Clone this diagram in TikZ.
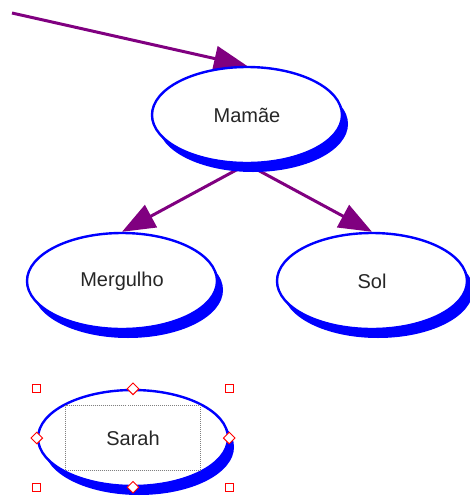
\documentclass[tikz,border=0pt]{standalone}
\usepackage{fontspec}
\setmainfont{Liberation Sans}
\usetikzlibrary{arrows.meta, shapes.geometric, shadows, backgrounds}
\definecolor{azul}{RGB}{0,0,255}
\definecolor{roxo}{RGB}{128,0,128}
\tikzset{
  conceito/.style={
    ellipse, draw=azul, line width=2.4pt, fill=white,
    minimum width=190pt, minimum height=96pt,
    font=\fontsize{20}{24}\selectfont, text=black!85,
    drop shadow={shadow xshift=6pt, shadow yshift=-9pt, fill=azul, opacity=1}
  },
  seta/.style={
    -{Triangle[length=33pt,width=25pt]}, line width=3pt, color=roxo
  },
  alca/.style={
    rectangle, draw=red, fill=white, line width=0.9pt, minimum size=8pt, inner sep=0pt
  },
  losango/.style={
    diamond, draw=red, fill=white, line width=0.9pt, minimum size=12pt, inner sep=0pt
  }
}

\begin{document}
\begin{tikzpicture}[x=1pt, y=-1pt]
  \useasboundingbox (0,0) rectangle (470,496);

  % Conceitos
  \node[conceito] (mamae) at (247,115) {Mamãe};
  \node[conceito] (mergulho) at (122,281) {Mergulho};
  \node[conceito] (sol) at (372,281) {Sol};
  \node[conceito] (sarah) at (133,438) {Sarah};
  \coordinate (origem) at (12,13);

  % Ligações
  \begin{scope}[on background layer]
    \draw[seta] (origem) -- (mamae.north);
    \draw[seta] (mamae.south) -- (mergulho.north);
    \draw[seta] (mamae.south) -- (sol.north);
  \end{scope}

  % Seleção
  \node[draw=gray, dash pattern=on 1pt off 1pt, minimum width=135pt, minimum height=65pt] (caixa) at (sarah) {};
  \foreach \v in {north, south}
    \foreach \h in {west, east}
      \node[alca] at (sarah.\v -| sarah.\h) {};
  \foreach \lado in {north, south, east, west}
    \node[losango] at (sarah.\lado) {};
\end{tikzpicture}
\end{document}
